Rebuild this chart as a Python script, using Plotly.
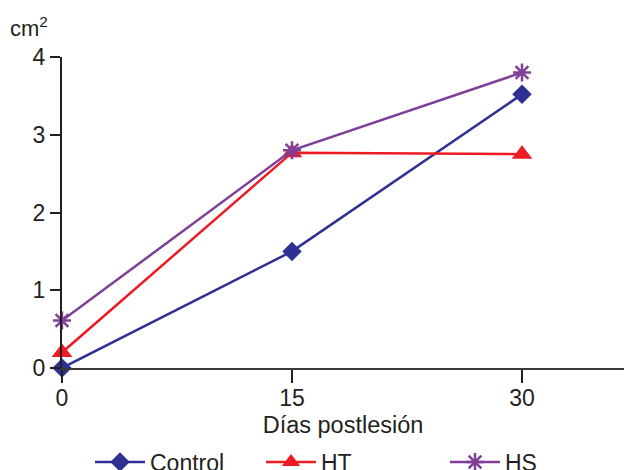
import plotly.graph_objects as go

days = [0, 15, 30]
control = [0.0, 1.50, 3.52]
ht = [0.20, 2.77, 2.75]
hs = [0.61, 2.80, 3.80]
y_ticks = [0, 1, 2, 3, 4]
x_ticks = [0, 15, 30]

FONT = "Liberation Sans, Arial, sans-serif"
TXT = "#231f20"

L, R, T, B = 62, 0, 57, 102
W, H = 624, 470
PW, PH = W - L - R, H - T - B


def px_x(px):
    return (px - L) / PW


def px_y(py):
    return (H - B - py) / PH


fig = go.Figure()
fig.add_trace(go.Scatter(
    x=days, y=control, name="Control", mode="lines+markers",
    line=dict(color="#2e3192", width=2.5),
    marker=dict(symbol="diamond", size=15, color="#2e3192"),
    cliponaxis=False, legend="legend"))
fig.add_trace(go.Scatter(
    x=days, y=ht, name="HT", mode="lines+markers",
    line=dict(color="#ed1c24", width=2.5),
    marker=dict(symbol="triangle-up", size=18, color="#ed1c24"),
    cliponaxis=False, legend="legend2"))
fig.add_trace(go.Scatter(
    x=days, y=hs, name="HS", mode="lines+markers",
    line=dict(color="#7f3f98", width=2.5),
    marker=dict(symbol="asterisk-open", size=15, color="#7f3f98",
                line=dict(color="#7f3f98", width=2.5)),
    cliponaxis=False, legend="legend3"))

leg_common = dict(orientation="h", bgcolor="rgba(0,0,0,0)",
                  font=dict(family=FONT, size=23, color=TXT),
                  itemwidth=50, xref="container", yref="container",
                  yanchor="middle", xanchor="left", visible=True)

fig.update_layout(
    width=W, height=H, showlegend=True,
    margin=dict(l=L, r=R, t=T, b=B, pad=0, autoexpand=False),
    paper_bgcolor="white", plot_bgcolor="white",
    font=dict(family=FONT, size=23, color=TXT),
    legend=dict(x=90 / W, y=1 - 462 / H, **leg_common),
    legend2=dict(x=261 / W, y=1 - 462 / H, **leg_common),
    legend3=dict(x=445 / W, y=1 - 462 / H, **leg_common),
    xaxis=dict(range=[0, (W - L) / ((522 - 62) / 30)], tickvals=x_ticks,
               ticktext=[str(v) for v in x_ticks],
               showgrid=False, zeroline=False, showline=True,
               linecolor="#3a3a3a", linewidth=2,
               ticks="outside", ticklen=13, tickwidth=1.5, tickcolor=TXT,
               ticklabelstandoff=-5,
               tickfont=dict(family=FONT, size=23, color=TXT),
               title=dict(text="Días postlesión", standoff=7,
                          font=dict(family=FONT, size=23.5, color=TXT))),
    yaxis=dict(range=[0, 4], tickvals=y_ticks,
               showgrid=False, zeroline=False, showline=True,
               linecolor=TXT, linewidth=2,
               ticks="outside", ticklen=10, tickwidth=1.5, tickcolor=TXT,
               tickfont=dict(family=FONT, size=23, color=TXT)),
    annotations=[dict(text="cm<sup>2</sup>", xref="paper", yref="paper",
                      x=px_x(8), y=px_y(27), xanchor="left", yanchor="middle",
                      showarrow=False, font=dict(family=FONT, size=22, color=TXT))],
)

fig.write_html("out.html", config={"displayModeBar": False},
               post_script="document.body.style.margin='0';document.body.style.overflow='hidden';")
